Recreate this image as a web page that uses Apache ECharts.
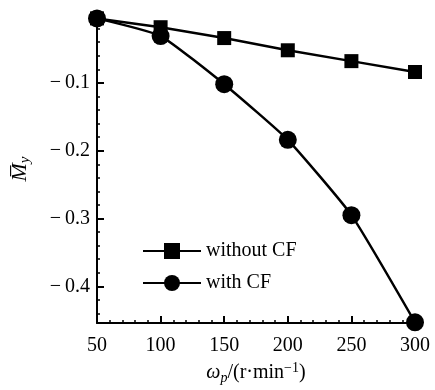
<!DOCTYPE html>
<html>
<head>
<meta charset="utf-8">
<script src="https://cdn.jsdelivr.net/npm/echarts@6/dist/echarts.min.js"></script>
<style>
  html, body { margin: 0; padding: 0; background: #fff; }
  #chart { width: 435px; height: 390px; }
</style>
</head>
<body>
<div id="chart"></div>
<script>
// rotational speed (r/min)
const speeds = [50, 100, 150, 200, 250, 300]
const withoutCF = [-0.005, -0.018, -0.034, -0.052, -0.068, -0.084]
const withCF = [-0.005, -0.031, -0.102, -0.184, -0.295, -0.453]
const seriesNames = ['without CF', 'with CF']

const font = 'Liberation Serif'

const chart = echarts.init(document.getElementById('chart'))

function pairs(xs, ys) {
  return xs.map((x, i) => [x, ys[i]])
}

chart.setOption({
  animation: false,
  textStyle: { fontFamily: font, color: '#000' },
  grid: {
    left: 97,
    right: 20,
    top: 15,
    bottom: 67
  },
  legend: {
    orient: 'vertical',
    left: 137,
    top: 236,
    itemWidth: 58,
    itemHeight: 20,
    itemGap: 12,
    textStyle: { fontFamily: font, fontSize: 20, color: '#000' },
    data: seriesNames
  },
  xAxis: {
    type: 'value',
    min: 50,
    max: 300,
    interval: 50,
    name: '{i|ω}{sub|p}{n|/(r·min}{sup|−1}{n|)}',
    nameLocation: 'middle',
    nameGap: 38,
    nameTextStyle: {
      rich: {
        i: { fontFamily: font, fontSize: 20, fontStyle: 'italic' },
        sub: { fontFamily: font, fontSize: 14, fontStyle: 'italic', verticalAlign: 'bottom', padding: [10, 0, 0, 0] },
        n: { fontFamily: font, fontSize: 20 },
        sup: { fontFamily: font, fontSize: 14, verticalAlign: 'top', padding: [0, 0, 10, 0] }
      }
    },
    axisLine: { onZero: false, lineStyle: { color: '#000', width: 2 } },
    axisTick: { inside: true, length: 7, lineStyle: { color: '#000', width: 2 } },
    minorTick: { show: true, splitNumber: 5, length: 3, lineStyle: { color: '#000', width: 1.5 } },
    axisLabel: { fontFamily: font, fontSize: 20, color: '#000', margin: 13 },
    splitLine: { show: false }
  },
  yAxis: {
    type: 'value',
    min: -0.454,
    max: 0,
    name: '{m|M\u0305}{sub|y}',
    nameLocation: 'middle',
    nameGap: 64,
    nameTextStyle: {
      rich: {
        m: { fontFamily: font, fontSize: 22, fontStyle: 'italic' },
        sub: { fontFamily: font, fontSize: 15, fontStyle: 'italic', verticalAlign: 'bottom', padding: [10, 0, 0, 0] }
      }
    },
    axisLine: { show: true, onZero: false, lineStyle: { color: '#000', width: 2 } },
    axisTick: { inside: true, length: 7, lineStyle: { color: '#000', width: 2 } },
    minorTick: { show: true, splitNumber: 5, length: 3, lineStyle: { color: '#000', width: 1.5 } },
    axisLabel: {
      fontFamily: font,
      fontSize: 20,
      color: '#000',
      margin: 7,
      showMinLabel: false,
      showMaxLabel: false,
      formatter: v => '−\u2009' + Math.abs(v).toFixed(1)
    },
    splitLine: { show: false }
  },
  series: [
    {
      name: seriesNames[0],
      type: 'line',
      data: pairs(speeds, withoutCF),
      symbol: 'rect',
      symbolSize: 14,
      itemStyle: { color: '#000' },
      lineStyle: { color: '#000', width: 2.5 }
    },
    {
      name: seriesNames[1],
      type: 'line',
      data: pairs(speeds, withCF),
      smooth: 0.15,
      symbol: 'circle',
      symbolSize: 18,
      itemStyle: { color: '#000' },
      lineStyle: { color: '#000', width: 2.5 }
    }
  ]
})
</script>
</body>
</html>
